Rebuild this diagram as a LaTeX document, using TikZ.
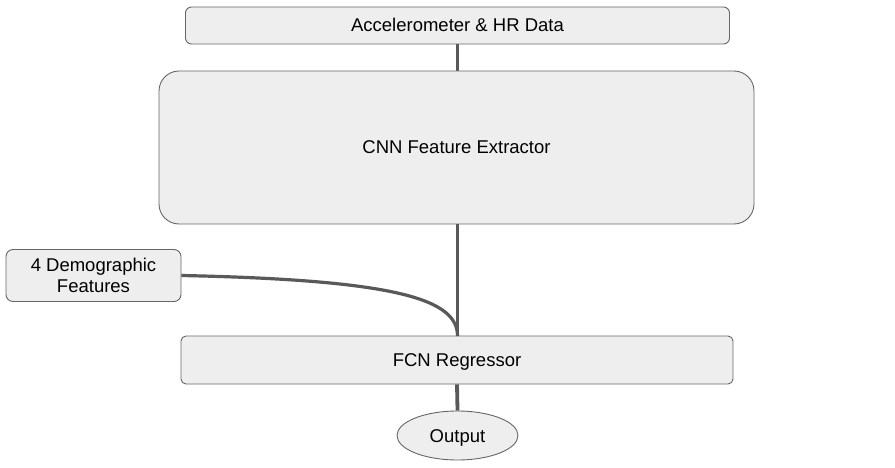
\documentclass[tikz,border=0pt]{standalone}
\usepackage{fontspec}
\setmainfont{Liberation Sans}
\usetikzlibrary{shapes.geometric}
\definecolor{boxfill}{HTML}{EEEEEE}
\definecolor{boxline}{HTML}{666666}
\definecolor{conn}{HTML}{595959}
\begin{document}
\begin{tikzpicture}[x=1pt,y=-1pt,
  box/.style={draw=boxline, fill=boxfill, line width=0.9pt, align=center, inner sep=0pt,
    font=\fontsize{18.5}{21}\selectfont},
  oneline/.style={text height=13pt, text depth=0pt},
  link/.style={draw=conn, line width=3.8pt}]
\useasboundingbox (0,0) rectangle (895,468);
\draw[link] (457.5,44) -- (457.5,71);
\draw[link] (457.5,224) -- (457.5,336);
\node[box, oneline, rounded corners=6pt, minimum width=544pt, minimum height=37pt] (top) at (457.5,25.5) {Accelerometer \& HR Data};
\node[box, oneline, rounded corners=20pt, minimum width=595pt, minimum height=153pt] (cnn) at (456.5,147.5) {CNN Feature Extractor};
\node[box, rounded corners=7pt, minimum width=175pt, minimum height=52pt] (demo) at (93.5,275.5) {4 Demographic\\Features};
\node[box, oneline, rounded corners=5pt, minimum width=552pt, minimum height=48pt] (fcn) at (457,360) {FCN Regressor};
\node[box, oneline, ellipse, minimum width=121pt, minimum height=49pt] (out) at (457.5,435.5) {Output};
\coordinate (join) at (457.5,336);
\draw[link, line width=3.2pt] (demo.east) .. controls (400,280) and (457.5,300) .. (join);
\draw[link] (fcn.south) -- (out.north);
\end{tikzpicture}
\end{document}
